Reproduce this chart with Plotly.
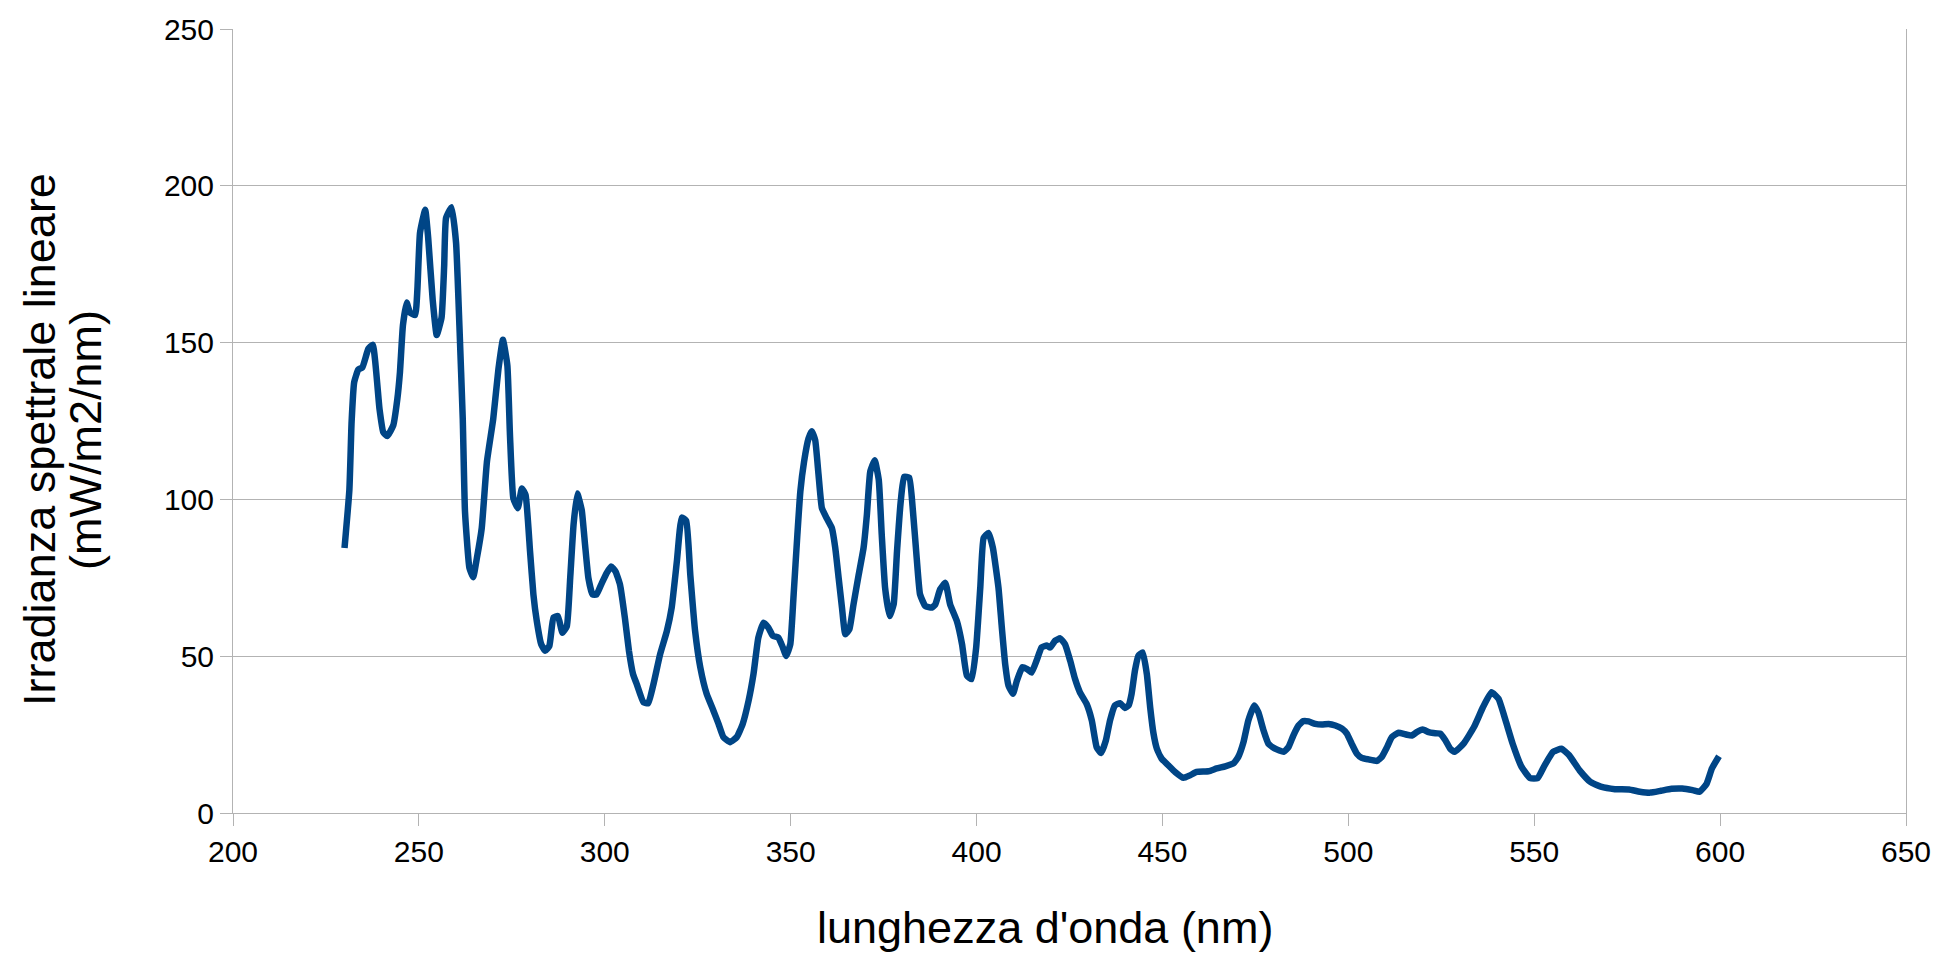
import plotly.graph_objects as go

# Spectral irradiance samples
wavelength_nm = [
    230.0, 231.3, 231.9, 232.6, 233.7, 234.8, 236.4, 237.6, 239.4, 240.4,
    241.5, 243.1, 244.2, 244.9, 245.7, 246.7, 247.6, 249.0, 249.6, 250.3,
    251.7, 252.5, 253.7, 254.8, 256.1, 256.8, 257.3, 258.8, 260.0, 260.9,
    261.8, 262.4, 263.6, 264.6, 265.6, 266.9, 268.3, 270.0, 271.4, 272.6,
    273.8, 274.5, 275.4, 276.6, 277.7, 278.7, 279.9, 280.8, 281.7, 282.9,
    284.0, 285.1, 286.2, 287.4, 288.6, 289.8, 290.7, 291.6, 292.6, 293.8,
    294.7, 295.6, 296.7, 297.8, 299.2, 300.5, 301.7, 302.9, 304.1, 305.4,
    306.5, 307.6, 308.6, 310.4, 311.7, 313.1, 314.9, 316.7, 318.0, 319.4,
    320.7, 321.9, 323.0, 324.3, 325.7, 327.4, 329.2, 330.6, 331.9, 333.7,
    335.5, 337.1, 338.7, 340.0, 341.3, 342.7, 344.0, 345.2, 346.7, 347.9,
    348.8, 349.9, 350.8, 351.8, 352.6, 353.6, 354.8, 355.7, 356.6, 357.5,
    358.4, 359.7, 361.1, 362.0, 362.9, 363.8, 364.7, 365.8, 366.9, 368.3,
    369.6, 370.5, 371.4, 372.6, 373.7, 374.5, 375.4, 376.6, 377.7, 378.6,
    379.6, 380.5, 381.9, 382.9, 383.9, 384.8, 386.2, 388.0, 388.9, 390.2,
    391.6, 392.9, 394.7, 396.1, 397.4, 398.7, 399.9, 401.0, 401.9, 403.2,
    404.4, 405.9, 406.8, 407.7, 408.6, 409.8, 410.8, 412.3, 413.6, 414.8,
    416.2, 417.5, 418.9, 419.8, 421.1, 422.5, 423.8, 425.2, 426.5, 427.8,
    429.6, 431.0, 432.3, 433.5, 434.8, 435.9, 437.2, 438.6, 439.9, 440.9,
    441.7, 442.6, 443.5, 444.7, 445.8, 446.7, 447.6, 448.5, 449.8, 451.6,
    453.4, 455.7, 457.4, 459.2, 462.4, 464.6, 466.9, 469.1, 470.4, 471.8,
    473.1, 474.7, 475.8, 477.2, 478.5, 480.3, 482.6, 483.9, 485.2, 486.6,
    487.9, 489.3, 491.1, 492.9, 494.7, 496.5, 498.3, 499.6, 500.9, 502.3,
    503.6, 505.4, 507.7, 509.0, 510.4, 511.7, 513.5, 515.3, 517.1, 518.4,
    520.0, 521.6, 522.9, 524.7, 526.1, 527.4, 528.6, 531.0, 533.8, 536.2,
    538.5, 540.4, 542.3, 544.2, 546.6, 548.9, 550.9, 552.8, 555.1, 557.3,
    559.4, 562.2, 565.1, 567.9, 571.7, 575.5, 578.4, 581.2, 584.1, 586.9,
    589.8, 592.6, 594.5, 596.4, 597.8, 599.7,
]

irradiance = [
    84.5, 103.0, 124.7, 137.4, 141.4, 142.1, 148.0, 149.3, 128.9, 121.5,
    120.2, 123.6, 132.0, 140.5, 155.4, 162.8, 159.6, 158.8, 167.0, 185.0,
    192.4, 183.4, 163.8, 152.4, 158.0, 174.4, 189.7, 193.2, 181.8, 155.4,
    125.7, 96.1, 78.1, 75.2, 81.3, 90.8, 112.0, 125.7, 141.6, 150.9,
    142.7, 120.5, 100.4, 97.2, 103.5, 101.4, 83.4, 69.7, 61.3, 53.8,
    51.7, 53.3, 62.3, 62.8, 57.5, 59.6, 74.9, 91.9, 101.9, 96.6,
    85.5, 74.9, 69.7, 69.7, 73.3, 76.5, 78.6, 77.0, 72.8, 62.3,
    51.7, 44.3, 41.1, 35.3, 35.0, 41.1, 50.7, 58.0, 65.5, 80.3,
    94.2, 93.2, 76.0, 58.0, 46.4, 38.0, 32.7, 28.4, 24.2, 22.6,
    24.2, 28.4, 35.9, 44.3, 55.9, 60.7, 59.1, 56.5, 55.9, 52.8,
    50.1, 53.8, 69.7, 88.7, 102.5, 112.0, 119.4, 121.7, 118.9, 107.8,
    97.2, 94.0, 90.8, 84.5, 75.0, 65.5, 57.0, 58.6, 66.5, 76.0,
    84.5, 95.1, 108.8, 112.5, 106.2, 88.7, 71.8, 62.8, 66.5, 83.4,
    99.3, 107.2, 106.9, 96.1, 81.3, 69.7, 66.0, 65.5, 66.5, 71.3,
    73.4, 66.5, 61.2, 53.8, 43.8, 42.7, 52.8, 71.8, 87.7, 89.3,
    84.5, 71.8, 59.1, 47.5, 40.6, 38.0, 42.0, 46.5, 45.9, 44.8,
    48.8, 52.8, 53.4, 52.8, 54.9, 55.7, 53.8, 48.5, 42.7, 38.5,
    34.8, 29.5, 21.0, 19.1, 23.2, 29.5, 34.3, 35.0, 33.5, 34.3,
    38.0, 45.4, 50.1, 51.2, 44.3, 33.7, 25.3, 20.5, 17.3, 15.2,
    13.1, 11.2, 12.0, 13.1, 13.3, 14.2, 14.9, 15.8, 17.9, 22.6,
    29.5, 34.3, 32.1, 26.3, 22.1, 20.5, 19.5, 21.0, 24.7, 27.9,
    29.3, 29.2, 28.4, 28.2, 28.4, 27.9, 26.9, 25.3, 22.1, 18.9,
    17.6, 17.1, 16.6, 17.9, 21.0, 24.2, 25.6, 25.1, 24.7, 25.8,
    26.6, 25.8, 25.5, 25.3, 23.2, 20.5, 19.5, 22.1, 27.4, 33.7,
    38.5, 36.4, 29.5, 22.1, 14.7, 11.1, 11.1, 15.2, 19.5, 20.5,
    18.4, 13.6, 9.9, 8.4, 7.6, 7.5, 6.8, 6.5, 7.1, 7.7,
    7.8, 7.3, 6.8, 9.4, 14.2, 18.1,
]

x_tick_values = [200, 250, 300, 350, 400, 450, 500, 550, 600, 650]
y_tick_values = [0, 50, 100, 150, 200, 250]

x_title = "lunghezza d'onda (nm)"
y_title_lines = ["Irradianza spettrale lineare", "(mW/m2/nm)"]

W, H = 1952, 958
M_L, M_R, M_T, M_B = 233, 46, 25, 145
PLOT_W = W - M_L - M_R
PLOT_H = H - M_T - M_B

GRID = "#b3b3b3"
LINE = "#004586"
FONT = "Liberation Sans, Arial, sans-serif"
TICK_SIZE = 30


def px_to_paper_x(px):
    return (px - M_L) / PLOT_W


def px_to_paper_y(py):
    return (H - M_B - py) / PLOT_H


fig = go.Figure()
fig.add_trace(go.Scatter(
    x=wavelength_nm,
    y=irradiance,
    mode="lines",
    line=dict(color=LINE, width=6.5, shape="spline", smoothing=0.4),
    showlegend=False,
    hoverinfo="x+y",
))

fig.update_layout(
    width=W,
    height=H,
    margin=dict(l=M_L, r=M_R, t=M_T, b=M_B, pad=0),
    paper_bgcolor="white",
    plot_bgcolor="white",
    font=dict(family=FONT, color="black", size=TICK_SIZE),
    xaxis=dict(
        range=[200, 650],
        tickvals=x_tick_values,
        ticks="outside",
        ticklen=12,
        tickcolor=GRID,
        tickwidth=1,
        showgrid=False,
        zeroline=False,
        showline=True,
        linecolor=GRID,
        linewidth=1,
        tickfont=dict(size=TICK_SIZE, family=FONT, color="black"),
    ),
    yaxis=dict(
        range=[0, 250],
        tickvals=y_tick_values,
        ticks="outside",
        ticklen=12,
        tickcolor=GRID,
        tickwidth=1,
        showgrid=True,
        gridcolor=GRID,
        gridwidth=1,
        zeroline=False,
        showline=True,
        mirror=True,
        linecolor=GRID,
        linewidth=1,
        tickfont=dict(size=TICK_SIZE, family=FONT, color="black"),
    ),
)

fig.add_annotation(
    text=x_title,
    xref="paper", yref="paper",
    x=px_to_paper_x(1045), y=px_to_paper_y(928),
    xanchor="center", yanchor="middle",
    showarrow=False,
    font=dict(size=45, family=FONT, color="black"),
)

for cx, line_text in zip([40, 86], y_title_lines):
    fig.add_annotation(
        text=line_text,
        xref="paper", yref="paper",
        x=px_to_paper_x(cx), y=px_to_paper_y(438),
        xanchor="center", yanchor="middle",
        textangle=-90,
        showarrow=False,
        font=dict(size=45, family=FONT, color="black"),
    )

fig.write_html("out.html")
